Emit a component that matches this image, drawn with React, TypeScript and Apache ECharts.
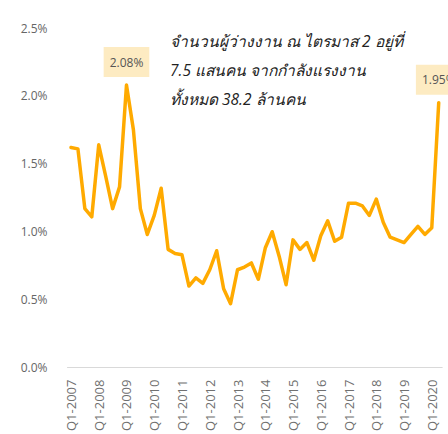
import React, { useEffect, useRef } from "react";
import * as echarts from "echarts";

const years = [2007, 2008, 2009, 2010, 2011, 2012, 2013, 2014, 2015, 2016, 2017, 2018, 2019, 2020];
const quarters = ["Q1", "Q2", "Q3", "Q4"];
const lastQuarterCount = 2; // 2020 has Q1, Q2

const categories: string[] = [];
years.forEach((y, i) => {
  const n = i === years.length - 1 ? lastQuarterCount : 4;
  for (let q = 0; q < n; q++) categories.push(`${quarters[q]}-${y}`);
});

const unemploymentRate = [
  1.62, 1.61, 1.17, 1.11, // 2007
  1.64, 1.41, 1.17, 1.33, // 2008
  2.08, 1.75, 1.17, 0.98, // 2009
  1.12, 1.32, 0.87, 0.84, // 2010
  0.83, 0.6, 0.66, 0.62, // 2011
  0.72, 0.86, 0.58, 0.47, // 2012
  0.72, 0.74, 0.77, 0.65, // 2013
  0.88, 1.0, 0.82, 0.61, // 2014
  0.94, 0.87, 0.92, 0.79, // 2015
  0.97, 1.08, 0.93, 0.96, // 2016
  1.21, 1.21, 1.19, 1.12, // 2017
  1.24, 1.07, 0.96, 0.94, // 2018
  0.92, 0.98, 1.04, 0.98, // 2019
  1.03, 1.95, // 2020
];

const labeledIndices = [8, 53];

const yTicks = { min: 0, max: 2.5, interval: 0.5 };

const annotationLines = [
  "จำนวนผู้ว่างงาน ณ ไตรมาส 2 อยู่ที่",
  "7.5 แสนคน จากกำลังแรงงาน",
  "ทั้งหมด 38.2 ล้านคน",
];

const FONT = "'Open Sans', 'Noto Sans', 'DejaVu Sans', sans-serif";

export default function App() {
  const ref = useRef<HTMLDivElement>(null);

  useEffect(() => {
    if (!ref.current) return;
    const chart = echarts.init(ref.current, null, { renderer: "svg" });
    const lineColor = "#FFAA00";
    const data = unemploymentRate.map((v, i) =>
      labeledIndices.includes(i)
        ? {
            value: v,
            label: {
              show: true,
              position: "top",
              distance: 8,
              formatter: (p: any) => `${Number(p.value).toFixed(2)}%`,
              backgroundColor: "#FDEBC2",
              color: "#555555",
              fontSize: 12,
              fontFamily: FONT,
              padding: [9, 6, 9, 6],
            },
          }
        : v
    );
    chart.setOption({
      animation: false,
      backgroundColor: "#ffffff",
      grid: { left: 67.5, right: 5.8, top: 28, bottom: 66, containLabel: false },
      xAxis: {
        type: "category",
        data: categories,
        boundaryGap: true,
        axisLine: { show: true, lineStyle: { color: "#D9D9D9", width: 1 } },
        axisTick: { show: false },
        axisLabel: {
          interval: 3,
          rotate: 90,
          margin: 12,
          color: "#707070",
          fontSize: 13,
          fontFamily: FONT,
        },
        splitLine: { show: false },
      },
      yAxis: {
        type: "value",
        min: yTicks.min,
        max: yTicks.max,
        interval: yTicks.interval,
        axisLine: { show: false },
        axisTick: { show: false },
        splitLine: { show: false },
        axisLabel: {
          margin: 20,
          color: "#666666",
          fontSize: 12,
          fontFamily: FONT,
          formatter: (v: number) => `${v.toFixed(1)}%`,
        },
      },
      series: [
        {
          type: "line",
          data,
          showSymbol: true,
          symbol: "circle",
          symbolSize: 0,
          label: { show: false },
          lineStyle: { color: lineColor, width: 3.5, join: "round", cap: "round" },
          itemStyle: { color: lineColor },
          emphasis: { disabled: true },
          z: 3,
        },
      ],
      graphic: annotationLines.map((t, i) => ({
        type: "text",
        left: 170,
        top: 33 + i * 29,
        style: {
          text: t,
          fill: "#222222",
          font: `italic 15.5px ${FONT}`,
        },
      })),
    });
    return () => chart.dispose();
  }, []);

  return (
    <div
      ref={ref}
      style={{ position: "fixed", left: 0, top: 0, width: 448, height: 434 }}
    />
  );
}
